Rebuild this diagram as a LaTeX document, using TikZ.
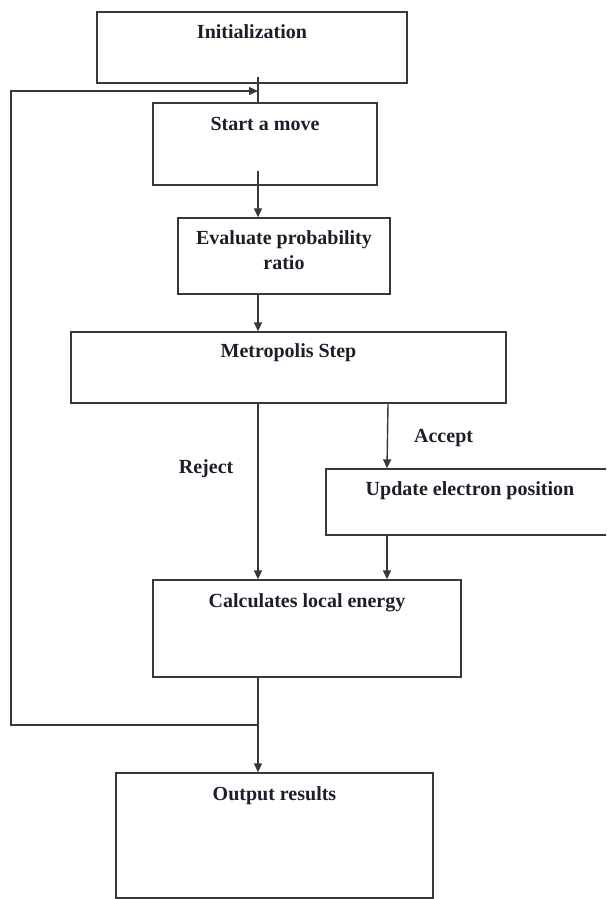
\documentclass[tikz,border=0pt]{standalone}
\usepackage{fontspec}
\setmainfont{Liberation Serif}
\usepackage{xcolor}
\usetikzlibrary{arrows.meta,calc,positioning}
\definecolor{FlowLine}{HTML}{383838}
\definecolor{FlowInk}{HTML}{1E1E2A}

\begin{document}
\begin{tikzpicture}[x=1pt,y=-1pt,>={Triangle[length=9pt,width=8pt]},
  stepbox/.style={draw=FlowLine,line width=1.4pt,rectangle,inner sep=0pt,align=center,
    text=FlowInk,font=\fontsize{20}{25}\selectfont\bfseries,text height=27pt},
  flow/.style={FlowLine,line width=1.4pt},
  branchlabel/.style={text=FlowInk,inner sep=0pt,font=\fontsize{20}{25}\selectfont\bfseries}]
  \clip (0,0) rectangle (606,899);
  % boxes of the loop
  \node[stepbox,minimum width=310pt,minimum height=71pt,text depth=44pt] (init) at (252,47.5) {Initialization};
  \node[stepbox,minimum width=224pt,minimum height=82pt,text depth=55pt] (start) at (265,144) {Start a move};
  \node[stepbox,minimum width=212pt,minimum height=76pt,text depth=25pt,text height=51pt] (eval) at (284,256) {Evaluate probability\\ratio};
  \node[stepbox,minimum width=435pt,minimum height=71pt,text depth=46pt,text height=25pt] (metro) at (288.5,367.5) {Metropolis Step};
  \node[stepbox,minimum width=288pt,minimum height=66pt,text depth=40pt,text height=26pt] (update) at (470,502) {Update electron position};
  \node[stepbox,minimum width=308pt,minimum height=97pt,text depth=70pt] (local) at (307,628.5) {Calculates local energy};
  \node[stepbox,minimum width=317pt,minimum height=125pt,text depth=98pt] (output) at (274.5,835.5) {Output results};
  % columns of the connectors
  \coordinate (spine) at (258,0);
  \coordinate (branch) at (387,0);
  \coordinate (back) at (11,0);
  \coordinate (entry) at (258,91);
  \coordinate (join) at (258,725);
  % connectors
  \draw[flow] ($(init.south -| spine)+(0,-7)$) -- (start.north -| spine);
  \draw[flow,->] ($(start.south -| spine)+(0,-15)$) -- (eval.north -| spine);
  \draw[flow,->] (eval.south -| spine) -- (metro.north -| spine);
  \draw[flow,->] (metro.south -| spine) -- node[branchlabel,pos=0.37,left=24pt] (reject) {Reject} (local.north -| spine);
  \draw[flow,->] ($(metro.south -| branch)+(1,0)$) -- node[branchlabel,pos=0.53,right=26pt] (accept) {Accept} (update.north -| branch);
  \draw[flow,->] (update.south -| branch) -- (local.north -| branch);
  \draw[flow,->] (local.south -| spine) -- (output.north -| spine);
  \draw[flow,->] (join) -- (join -| back) -- (back |- entry) -- (entry);
\end{tikzpicture}
\end{document}
